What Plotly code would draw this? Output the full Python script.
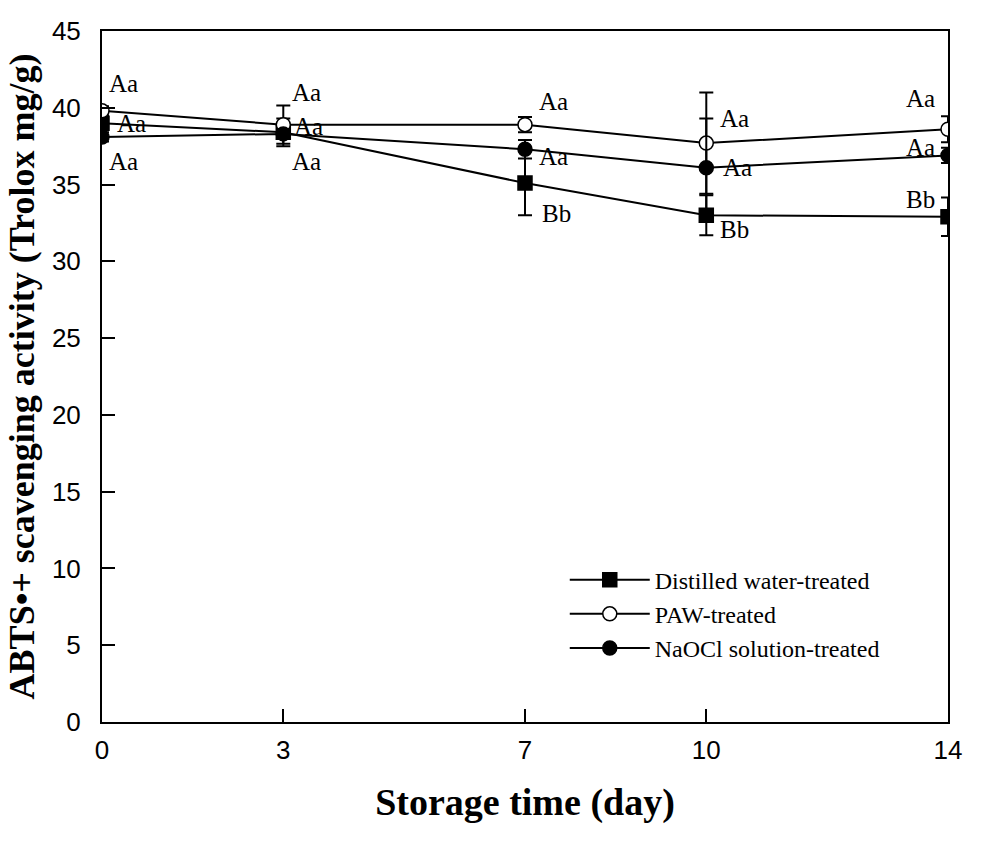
import plotly.graph_objects as go

days = [0, 3, 7, 10, 14]
distilled = [39.0, 38.4, 35.1, 33.0, 32.9]
distilled_err = [0.4, 0.9, 2.1, 1.3, 1.25]
paw = [39.8, 38.9, 38.9, 37.7, 38.6]
paw_err = [0.3, 1.25, 0.5, 3.3, 0.85]
naocl = [38.1, 38.3, 37.3, 36.1, 36.9]
naocl_err = [0.3, 0.3, 0.6, 3.2, 0.5]

series_names = ["Distilled water-treated", "PAW-treated", "NaOCl solution-treated"]

# significance letters: (x, y, text)
label_x = [0.35, 0.48, 0.35, 3.38, 3.42, 3.38, 7.47, 7.47, 7.52, 10.47, 10.52, 10.47, 13.55, 13.55, 13.55]
label_y = [41.6, 39.0, 36.5, 41.0, 38.75, 36.5, 40.4, 36.85, 33.1, 39.3, 36.1, 32.1, 40.6, 37.4, 34.05]
label_text = ["Aa", "Aa", "Aa", "Aa", "Aa", "Aa", "Aa", "Aa", "Bb", "Aa", "Aa", "Bb", "Aa", "Aa", "Bb"]

serif = "Liberation Serif, Times New Roman, serif"
sans = "Liberation Sans, Arial, sans-serif"

fig = go.Figure()

def add(name, y, err, symbol, fill):
    fig.add_trace(go.Scatter(
        x=days, y=y, name=name, mode="lines+markers",
        line=dict(color="black", width=2),
        marker=dict(symbol=symbol, size=14, color=fill, line=dict(color="black", width=1.5)),
        error_y=dict(type="data", array=err, visible=True, color="black", thickness=2, width=7),
    ))

add(series_names[0], distilled, distilled_err, "square", "black")
add(series_names[1], paw, paw_err, "circle", "white")
add(series_names[2], naocl, naocl_err, "circle", "black")

for x, y, t in zip(label_x, label_y, label_text):
    fig.add_annotation(x=x, y=y, text=t, showarrow=False, xanchor="center", yanchor="middle",
                       font=dict(family=serif, size=25, color="black"))

fig.update_layout(
    width=982, height=846,
    margin=dict(l=102, r=34, t=31, b=124),
    plot_bgcolor="white", paper_bgcolor="white",
    showlegend=True,
    legend=dict(x=0.547, y=0.238, xanchor="left", yanchor="top",
                font=dict(family=serif, size=24, color="black"),
                bgcolor="rgba(0,0,0,0)", itemwidth=80, tracegroupgap=0),
    xaxis=dict(range=[0, 14], tickvals=days, ticktext=[str(d) for d in days],
               ticks="inside", ticklen=13, tickwidth=2, tickcolor="black",
               showline=True, linecolor="black", linewidth=2, mirror=True,
               showgrid=False, zeroline=False, ticklabelstandoff=4,
               tickfont=dict(family=sans, size=26, color="black"),
               title=dict(text="<b>Storage time (day)</b>", standoff=24,
                          font=dict(family=serif, size=38, color="black"))),
    yaxis=dict(range=[0, 45], tickvals=[0, 5, 10, 15, 20, 25, 30, 35, 40, 45],
               ticks="inside", ticklen=13, tickwidth=2, tickcolor="black",
               showline=True, linecolor="black", linewidth=2, mirror=True,
               showgrid=False, zeroline=False, ticklabelstandoff=14,
               tickfont=dict(family=sans, size=26, color="black"),
               title=dict(text="<b>ABTS•+ scavenging activity (Trolox mg/g)</b>", standoff=6,
                          font=dict(family=serif, size=36, color="black"))),
)

fig.write_html("out.html")
